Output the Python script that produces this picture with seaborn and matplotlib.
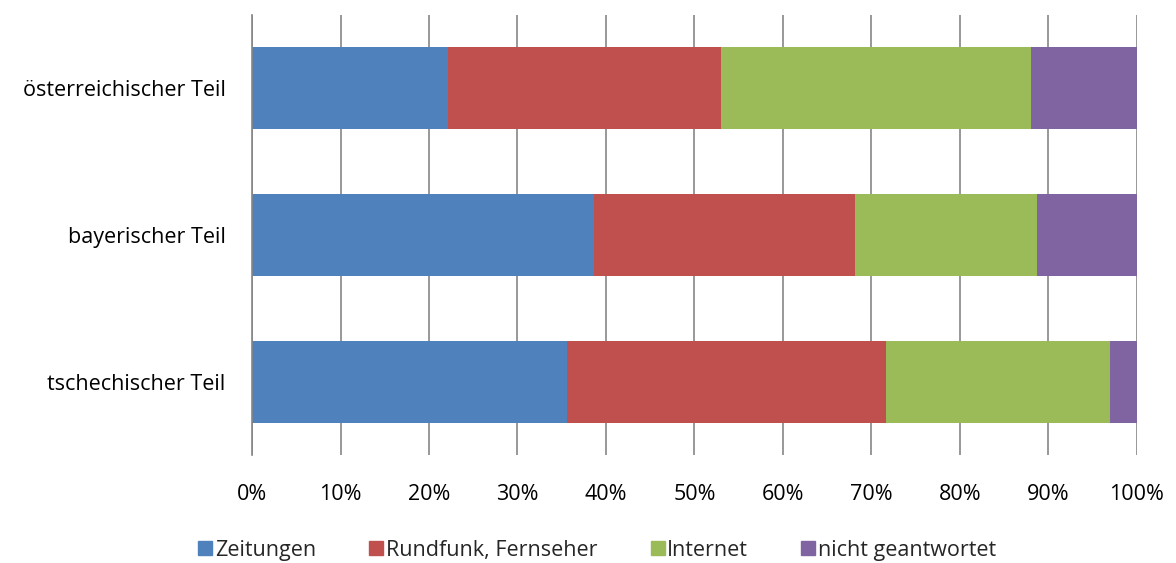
import pandas as pd
import numpy as np
import matplotlib.pyplot as plt
import seaborn as sns
from matplotlib.lines import Line2D

sns.set_style("white")
plt.rcParams["font.family"] = ["Open Sans", "DejaVu Sans"]

# Data (percent)
regions = ["österreichischer Teil", "bayerischer Teil", "tschechischer Teil"]
series = ["Zeitungen", "Rundfunk, Fernseher", "Internet", "nicht geantwortet"]
zeitungen = [22.1, 38.7, 35.6]
rundfunk = [30.9, 29.4, 36.0]
internet = [35.0, 20.6, 25.4]
nicht_geantwortet = [12.0, 11.3, 3.0]
colors = ["#4F81BD", "#C0504D", "#9BBB59", "#8064A2"]
xticks = [0, 10, 20, 30, 40, 50, 60, 70, 80, 90, 100]

df = pd.DataFrame(
    {
        "Region": regions,
        series[0]: zeitungen,
        series[1]: rundfunk,
        series[2]: internet,
        series[3]: nicht_geantwortet,
    }
)
cum = df[series].cumsum(axis=1)
cum["Region"] = df["Region"]

fig = plt.figure(figsize=(11.76, 5.63), dpi=100)
ax = fig.add_axes([0.2143, 0.1918, 0.7525, 0.7816])

# stacked bars: draw cumulative totals from the right-most segment backwards
for name, col in reversed(list(zip(series, colors))):
    sns.barplot(data=cum, x=name, y="Region", orient="h", color=col,
                width=0.56, saturation=1, ax=ax, zorder=3, linewidth=0)

ax.set_xlim(0, 100)
ax.set_ylim(2.5, -0.5)
ax.set_xticks(xticks)
ax.set_xticklabels([f"{t}%" for t in xticks])
ax.set_xlabel("")
ax.set_ylabel("")
ax.xaxis.grid(True, color="#868686", linewidth=1.2, zorder=0)
ax.yaxis.grid(False)
for side in ["top", "right", "bottom"]:
    ax.spines[side].set_visible(False)
ax.spines["left"].set_color("#868686")
ax.spines["left"].set_linewidth(1.2)
ax.spines["left"].set_zorder(4)
ax.tick_params(axis="x", length=0, pad=21, labelsize=15.5, colors="black")
ax.tick_params(axis="y", length=0, pad=19, labelsize=15.5, colors="black")

handles = [Line2D([0], [0], marker="s", linestyle="", markersize=10,
                  markerfacecolor=c, markeredgecolor=c) for c in colors]
fig.legend(handles, series, loc="lower center", bbox_to_anchor=(0.508, -0.03),
           ncol=4, frameon=False, fontsize=15.5, handlelength=0.6,
           handletextpad=0.15, columnspacing=2.5)

fig.savefig("out.png", dpi=100)
